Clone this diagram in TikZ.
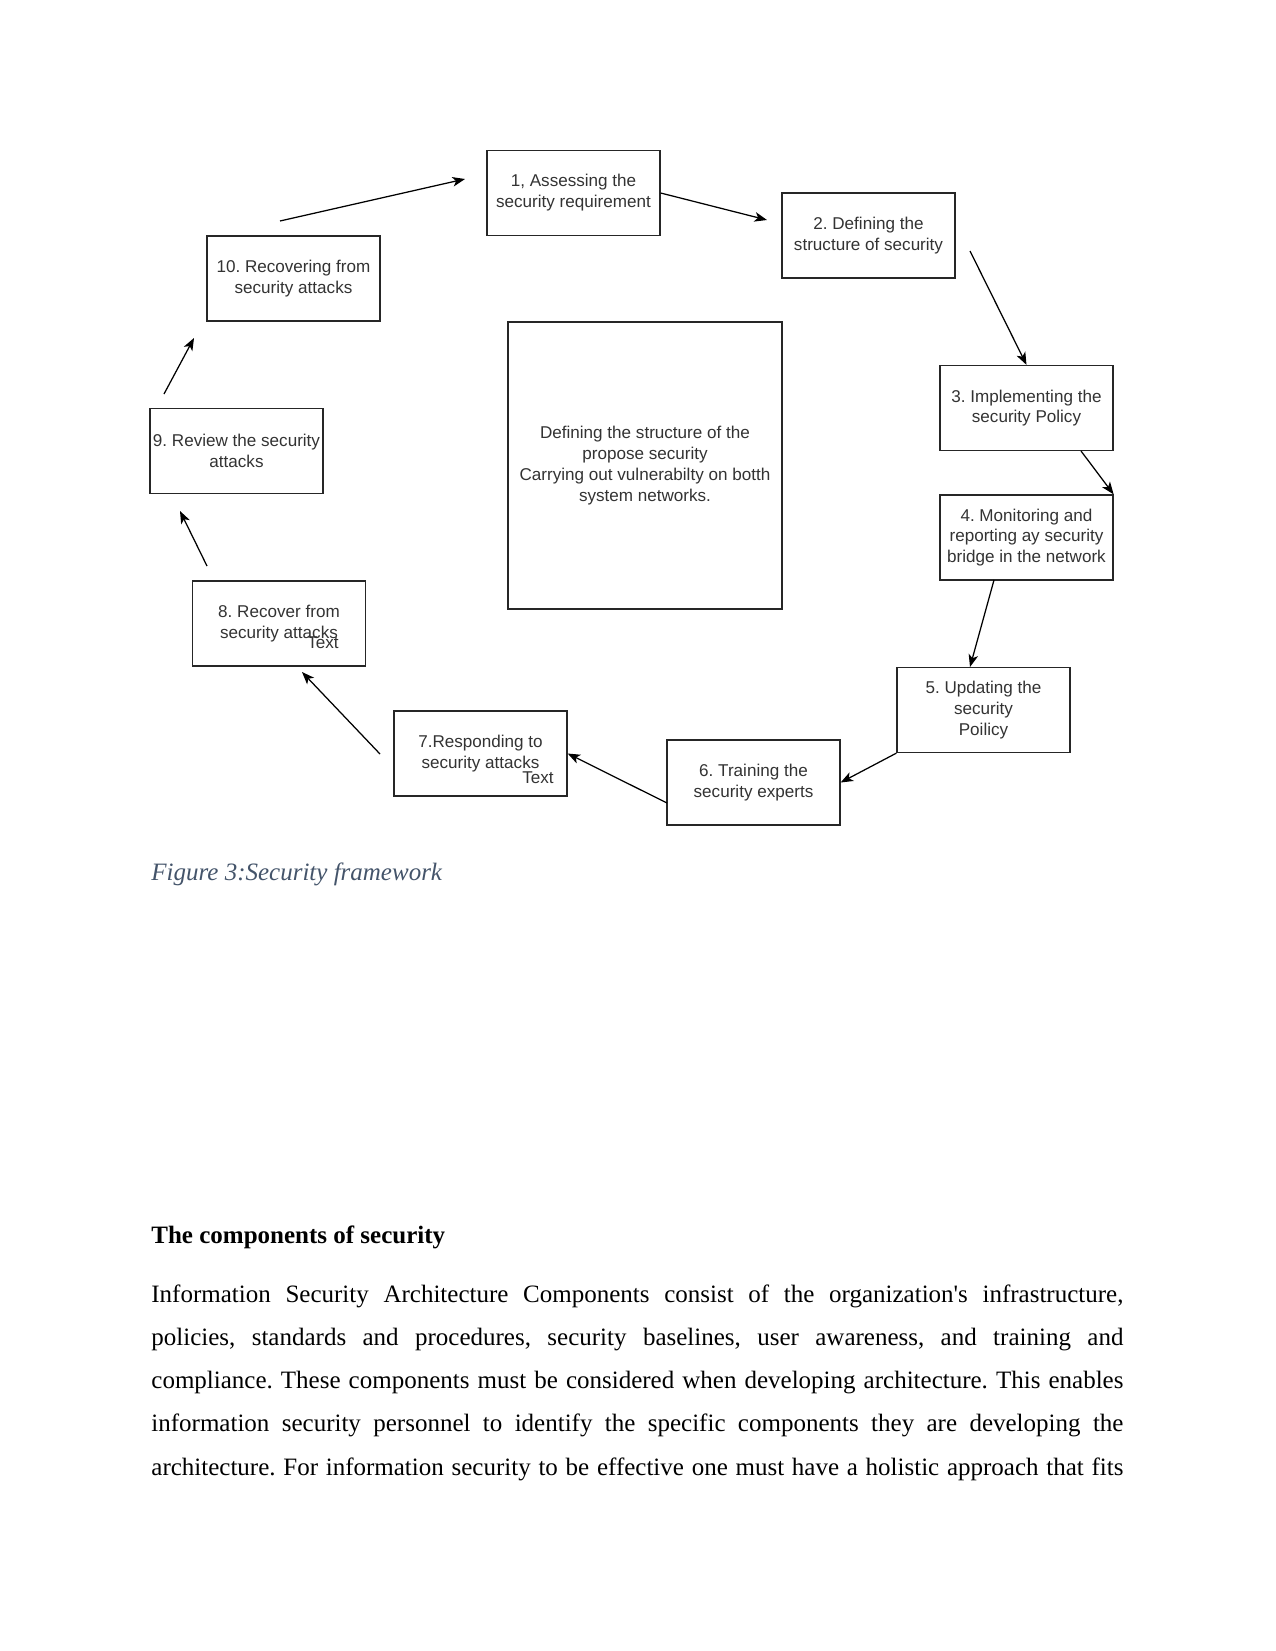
\documentclass[tikz,border=0pt]{standalone}
\usepackage{fontspec}
\setmainfont{Liberation Serif}
\setsansfont{Liberation Sans}
\usetikzlibrary{arrows.meta}
\frenchspacing
\definecolor{captc}{HTML}{44546A}
\definecolor{boxtxt}{HTML}{333333}
\tikzset{
 stepbox/.style={draw=black!85, line width=0.6pt, minimum width=83.04pt, minimum height=40.8pt, inner sep=0pt, align=center, text=boxtxt, font=\sffamily\fontsize{8.2}{10}\selectfont},
 bigbox/.style={stepbox, minimum width=131.52pt, minimum height=137.76pt},
 flow/.style={draw=black, line width=0.6pt, -{Stealth[length=6pt,width=4.6pt,inset=1.6pt]}},
 overtext/.style={inner sep=0pt, text=boxtxt, font=\sffamily\fontsize{8.2}{10}\selectfont},
 bodyline/.style={anchor=base west, inner sep=0pt, font=\fontsize{12}{14}\selectfont},
}
\newcommand{\jline}[1]{\makebox[466.56pt][s]{#1}}
\begin{document}
\begin{tikzpicture}[x=0.48pt,y=-0.48pt]
\useasboundingbox (0,0) rectangle (1275,1651);
% boxes
\node[stepbox] (b1) at (573.5,193) {1, Assessing the\\security requirement};
\node[stepbox] (b2) at (868.5,235.5) {2. Defining the\\structure of security};
\node[stepbox] (b3) at (1026.5,408) {3. Implementing the\\security Policy};
\node[stepbox] (b4) at (1026.5,537.5) {4. Monitoring and\\reporting ay security\\bridge in the network};
\node[stepbox] (b5) at (983.5,710) {5. Updating the\\security\\Poilicy};
\node[stepbox] (b6) at (753.5,782.5) {6. Training the\\security experts};
\node[stepbox] (b7) at (480.5,753.5) {7.Responding to\\security attacks};
\node[stepbox] (b8) at (279,623.5) {8. Recover from\\security attacks};
\node[stepbox] (b9) at (236.5,451) {9. Review the security\\attacks};
\node[stepbox] (b10) at (293.5,278.5) {10. Recovering from\\security attacks};
\node[bigbox] (c) at (645,465.5) {Defining the structure of the\\propose security\\Carrying out vulnerabilty on botth\\system networks.};
\node[overtext] (t8) at (323,643) {Text};
\node[overtext] (t7) at (538,778) {Text};
% free ends
\coordinate (s1) at (280,221); \coordinate (e1) at (465,179);
\coordinate (e2) at (767,220);
\coordinate (s3) at (970,251);
\coordinate (s4) at (1081,451);
\coordinate (s5) at (994,580); \coordinate (e5) at (970,667);
\coordinate (s7) at (667,803);
\coordinate (s8) at (380,754); \coordinate (e8) at (302,672);
\coordinate (s9) at (207,566); \coordinate (e9) at (180,511);
\coordinate (s10) at (164,394); \coordinate (e10) at (194,338);
% arrows
\draw[flow] (s1) -- (e1);
\draw[flow] (b1.east) -- (e2);
\draw[flow] (s3) -- (b3.north);
\draw[flow] (s4) -- (b4.north east);
\draw[flow] (s5) -- (e5);
\draw[flow] (b5.south west) -- (b6.east);
\draw[flow] (s7) -- (b7.east);
\draw[flow] (s8) -- (e8);
\draw[flow] (s9) -- (e9);
\draw[flow] (s10) -- (e10);
% caption and text
\node[bodyline, text=captc, font=\itshape\fontsize{12}{14}\selectfont] (cap) at (151,880) {Figure 3:Security framework};
\node[bodyline, font=\bfseries\fontsize{12}{14}\selectfont] (head) at (151,1243) {The components of security};
\node[bodyline] (l1) at (151,1302) {\jline{Information Security Architecture Components consist of the organization\textquotesingle s infrastructure,}};
\node[bodyline] (l2) at (151,1345) {\jline{policies, standards and procedures, security baselines, user awareness, and training and}};
\node[bodyline] (l3) at (151,1388) {\jline{compliance. These components must be considered when developing architecture. This enables}};
\node[bodyline] (l4) at (151,1431) {\jline{information security personnel to identify the specific components they are developing the}};
\node[bodyline] (l5) at (151,1475) {\jline{architecture. For information security to be effective one must have a holistic approach that fits}};
\end{tikzpicture}
\end{document}
